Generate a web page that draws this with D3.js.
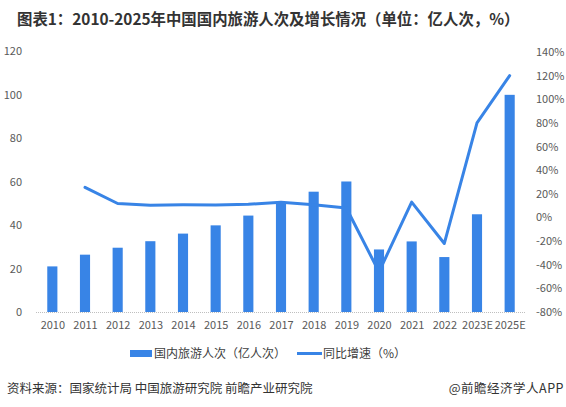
<!DOCTYPE html>
<html>
<head>
<meta charset="utf-8">
<script src="https://cdn.jsdelivr.net/npm/d3@7"></script>
<style>
  body { margin: 0; background: #fff; }
  text { font-family: "Microsoft YaHei", "Noto Sans CJK SC", sans-serif; }
</style>
</head>
<body>
<div id="chart"></div>
<script>
// Chart data
var years = ["2010", "2011", "2012", "2013", "2014", "2015", "2016", "2017", "2018", "2019", "2020", "2021", "2022", "2023E", "2025E"];
var trips = [21.0, 26.4, 29.6, 32.6, 36.1, 39.9, 44.4, 50.0, 55.4, 60.1, 28.8, 32.5, 25.3, 45.0, 100.0];
var growth = [null, 25.4, 11.8, 10.3, 10.7, 10.5, 11.2, 12.8, 10.8, 8.0, -46.0, 13.0, -22.0, 80.0, 120.0];
var leftTicks = [0, 20, 40, 60, 80, 100, 120];
var rightTicks = [-80, -60, -40, -20, 0, 20, 40, 60, 80, 100, 120, 140];

var width = 566, height = 407;
var plotLeft = 36, plotRight = 526, plotTop = 52, plotBottom = 312;
var barColor = "#3884e6";
var labelColor = "#595959";

var svg = d3.select("#chart").append("svg")
    .attr("width", width)
    .attr("height", height);

// Title
svg.append("text")
    .attr("x", 17).attr("y", 25)
    .attr("font-size", "15.4px").attr("font-weight", "bold")
    .attr("fill", "#333")
    .text("图表1：2010-2025年中国国内旅游人次及增长情况（单位：亿人次，%）");

// Scales
var x = d3.scaleBand().domain(years).range([plotLeft, plotRight]).paddingInner(0.69).paddingOuter(0.345);
var xCenter = d3.scalePoint().domain(years).range([plotLeft, plotRight]).padding(0.5);
var yLeft = d3.scaleLinear().domain([0, 120]).range([plotBottom, plotTop - 0.6]);
var yRight = d3.scaleLinear().domain([-80, 140]).range([plotBottom, plotTop]);

// Left axis
var leftAxis = svg.append("g")
    .attr("transform", "translate(" + 26 + ",0)")
    .call(d3.axisLeft(yLeft).tickValues(leftTicks).tickSize(0).tickPadding(4));
leftAxis.select(".domain").remove();
leftAxis.selectAll("text").attr("font-size", "11px").attr("fill", labelColor)
    .style("font-family", "'Microsoft YaHei', 'Noto Sans CJK SC', sans-serif");

// Right axis
var rightAxis = svg.append("g")
    .attr("transform", "translate(" + 532 + ",0)")
    .call(d3.axisRight(yRight).tickValues(rightTicks).tickSize(0).tickPadding(4).tickFormat(d => d + "%"));
rightAxis.select(".domain").remove();
rightAxis.selectAll("text").attr("font-size", "11px").attr("fill", labelColor)
    .style("font-family", "'Microsoft YaHei', 'Noto Sans CJK SC', sans-serif");

// Bars
svg.selectAll("rect.bar")
    .data(trips)
    .enter()
    .append("rect")
    .attr("class", "bar")
    .attr("x", (d, i) => x(years[i]))
    .attr("width", x.bandwidth())
    .attr("y", d => yLeft(d))
    .attr("height", d => plotBottom - yLeft(d))
    .attr("fill", barColor);

// Baseline
svg.append("line")
    .attr("x1", plotLeft).attr("x2", plotRight)
    .attr("y1", plotBottom + 0.5).attr("y2", plotBottom + 0.5)
    .attr("stroke", "#bfbfbf")
    .attr("stroke-dasharray", "1,1");

// X axis labels
var xAxis = svg.append("g")
    .attr("transform", "translate(0," + plotBottom + ")")
    .call(d3.axisBottom(xCenter).tickSize(0).tickPadding(9));
xAxis.select(".domain").remove();
xAxis.selectAll("text").attr("font-size", "11px").attr("fill", labelColor)
    .style("font-family", "'Microsoft YaHei', 'Noto Sans CJK SC', sans-serif");

// Growth line
var lineGen = d3.line()
    .defined(d => d != null)
    .x((d, i) => xCenter(years[i]))
    .y(d => yRight(d));

svg.append("path")
    .datum(growth)
    .attr("d", lineGen)
    .attr("fill", "none")
    .attr("stroke", barColor)
    .attr("stroke-width", 3)
    .attr("stroke-linejoin", "round")
    .attr("stroke-linecap", "round");

// Legend
var legend = svg.append("g").attr("font-size", "12px").attr("fill", "#404040");
legend.append("rect")
    .attr("x", 130).attr("y", 350).attr("width", 22).attr("height", 7)
    .attr("fill", barColor);
legend.append("text")
    .attr("x", 154).attr("y", 358)
    .attr("fill", "#404040")
    .text("国内旅游人次（亿人次）");
legend.append("line")
    .attr("x1", 297).attr("x2", 322).attr("y1", 353.5).attr("y2", 353.5)
    .attr("stroke", barColor).attr("stroke-width", 3);
legend.append("text")
    .attr("x", 323).attr("y", 358)
    .attr("fill", "#404040")
    .text("同比增速（%）");

// Footer
svg.append("text")
    .attr("x", 7).attr("y", 393)
    .attr("font-size", "12.5px").attr("fill", "#333")
    .text("资料来源：国家统计局 中国旅游研究院 前瞻产业研究院");
svg.append("text")
    .attr("x", 564).attr("y", 393)
    .attr("text-anchor", "end")
    .attr("font-size", "12.5px").attr("fill", "#333")
    .attr("letter-spacing", "0.5px")
    .text("@前瞻经济学人APP");
</script>
</body>
</html>
